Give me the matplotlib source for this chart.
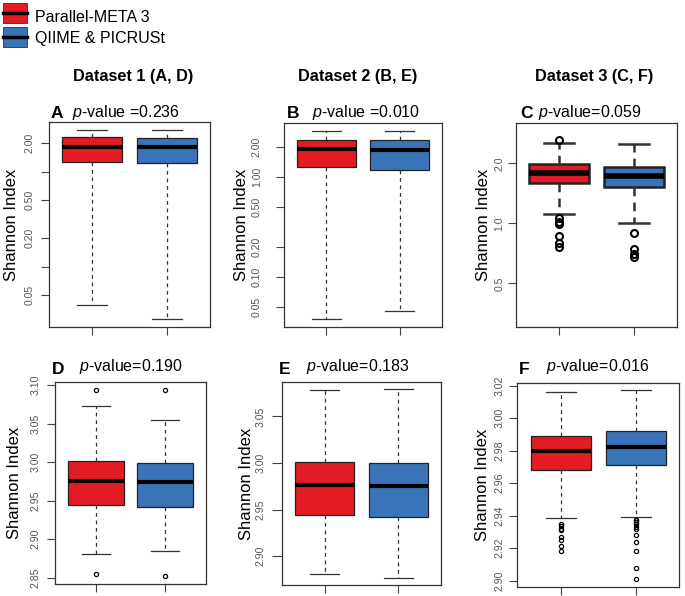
import matplotlib
matplotlib.use("Agg")
import matplotlib.pyplot as plt
from matplotlib.patches import Rectangle
from matplotlib.lines import Line2D

plt.rcParams['font.family'] = ['Liberation Sans', 'DejaVu Sans']
plt.rcParams['mathtext.fontset'] = 'custom'
plt.rcParams['mathtext.it'] = 'Liberation Sans:italic'
plt.rcParams['mathtext.rm'] = 'Liberation Sans'

# ---------------- data ----------------
methods = ["Parallel-META 3", "QIIME & PICRUSt"]
colors = ["#E31B23", "#3A74B8"]
datasets = ["Dataset 1 (A, D)", "Dataset 2 (B, E)", "Dataset 3 (C, F)"]
panel_letters = ["A", "B", "C", "D", "E", "F"]
p_values = ["0.236", "0.010", "0.059", "0.190", "0.183", "0.016"]

# per panel: [Parallel-META 3, QIIME & PICRUSt]
A_whislo = [0.0395, 0.0279]; A_q1 = [1.26, 1.23]; A_med = [1.84, 1.84]; A_q3 = [2.31, 2.27]; A_whishi = [2.78, 2.78]
A_fliers = [[], []]
B_whislo = [0.0378, 0.0458]; B_q1 = [1.26, 1.19]; B_med = [1.92, 1.89]; B_q3 = [2.38, 2.38]; B_whishi = [2.93, 2.90]
B_fliers = [[], []]
C_whislo = [1.11, 1.00]; C_q1 = [1.59, 1.53]; C_med = [1.78, 1.73]; C_q3 = [1.98, 1.92]; C_whishi = [2.54, 2.49]
C_fliers = [[2.62, 1.06, 1.02, 0.99, 0.86, 0.80, 0.76], [0.89, 0.74, 0.70, 0.68]]
D_whislo = [2.8805, 2.885]; D_q1 = [2.944, 2.942]; D_med = [2.976, 2.974]; D_q3 = [3.002, 2.999]; D_whishi = [3.073, 3.055]
D_fliers = [[3.093, 2.855], [3.094, 2.852]]
E_whislo = [2.881, 2.877]; E_q1 = [2.944, 2.942]; E_med = [2.976, 2.975]; E_q3 = [3.001, 3.000]; E_whishi = [3.078, 3.079]
E_fliers = [[], []]
F_whislo = [2.9385, 2.939]; F_q1 = [2.968, 2.971]; F_med = [2.980, 2.982]; F_q3 = [2.989, 2.992]; F_whishi = [3.016, 3.017]
F_fliers = [[2.9345, 2.9335, 2.932, 2.931, 2.927, 2.925, 2.921, 2.918],
            [2.9375, 2.937, 2.936, 2.935, 2.933, 2.932, 2.928, 2.924, 2.918, 2.908, 2.901]]

A_ticks = [0.05, 0.1, 0.2, 0.5, 1.0, 2.0]; A_labels = ["0.05", "", "0.20", "0.50", "", "2.00"]
B_ticks = [0.05, 0.1, 0.2, 0.5, 1.0, 2.0]; B_labels = ["0.05", "0.10", "0.20", "0.50", "1.00", "2.00"]
C_ticks = [0.5, 1.0, 2.0]; C_labels = ["0.5", "1.0", "2.0"]
D_ticks = [2.85, 2.90, 2.95, 3.00, 3.05, 3.10]; D_labels = ["2.85", "2.90", "2.95", "3.00", "3.05", "3.10"]
E_ticks = [2.90, 2.95, 3.00, 3.05]; E_labels = ["2.90", "2.95", "3.00", "3.05"]
F_ticks = [2.90, 2.92, 2.94, 2.96, 2.98, 3.00, 3.02]; F_labels = ["2.90", "2.92", "2.94", "2.96", "2.98", "3.00", "3.02"]

panels = [
    (A_whislo, A_q1, A_med, A_q3, A_whishi, A_fliers, A_ticks, A_labels),
    (B_whislo, B_q1, B_med, B_q3, B_whishi, B_fliers, B_ticks, B_labels),
    (C_whislo, C_q1, C_med, C_q3, C_whishi, C_fliers, C_ticks, C_labels),
    (D_whislo, D_q1, D_med, D_q3, D_whishi, D_fliers, D_ticks, D_labels),
    (E_whislo, E_q1, E_med, E_q3, E_whishi, E_fliers, E_ticks, E_labels),
    (F_whislo, F_q1, F_med, F_q3, F_whishi, F_fliers, F_ticks, F_labels),
]

# ---------------- layout (pixels) ----------------
W, H = 685, 596
fig = plt.figure(figsize=(W / 100, H / 100), dpi=100)

# left, right, top, bottom in pixels
boxes_px = [(49, 210, 122, 327), (284, 442, 123, 327), (516, 677, 123, 327),
            (55, 206, 382, 584), (282, 441, 382, 585), (517, 679, 383, 587)]
ylims = [(0.0232, 3.34), (0.0318, 3.49), (0.302, 3.19),
         (2.842, 3.104), (2.869, 3.087), (2.896, 3.0216)]
log_panel = [True, True, True, False, False, False]
heavy = [False, False, True, False, False, False]
tick_pad = [4.2, 10.0, 2.4, 4.2, 5.0, 2.7]
tick_len = [6, 6, 6, 6, 7, 6]
ylabel_cx = [11.5, 241.5, 483, 15, 246.5, 482.5]
letter_px = [(51, 113), (287, 113), (520, 113), (52, 370), (279, 370), (519, 370)]
ptext_px = [(72, 113), (312, 113), (538, 113), (79, 367), (306, 367), (546, 367)]
psep = [" =", " =", "=", "=", "=", "="]


def fx(x):
    return x / W


def fy(y):
    return 1 - y / H


for i, (wlo, q1, med, q3, whi, fl, ticks, labels) in enumerate(panels):
    l, r, t, b = boxes_px[i]
    ax = fig.add_axes([fx(l), fy(b), (r - l) / W, (b - t) / H])
    lw = 1.8 if heavy[i] else 0.9
    stats = []
    for k in range(2):
        stats.append(dict(whislo=wlo[k], q1=q1[k], med=med[k], q3=q3[k],
                          whishi=whi[k], fliers=fl[k]))
    msize = 5 if heavy[i] else 3.0
    bp = ax.bxp(stats, positions=[1, 2], widths=0.8, patch_artist=True,
                showfliers=True,
                boxprops=dict(linewidth=lw, edgecolor="#222222"),
                medianprops=dict(color="black", linewidth=4.0 if heavy[i] else 3.0),
                whiskerprops=dict(color="#333333", linewidth=lw,
                                  linestyle=(0, (3.5, 2.5)) if heavy[i] else (0, (3, 3))),
                capprops=dict(color="#333333", linewidth=lw),
                flierprops=dict(marker="o", markerfacecolor="none",
                                markeredgecolor="black", markersize=msize,
                                markeredgewidth=1.5 if heavy[i] else 0.9),
                capwidths=0.4)
    for patch, c in zip(bp["boxes"], colors):
        patch.set_facecolor(c)
    if log_panel[i]:
        ax.set_yscale("log")
    ax.set_xlim(0.42, 2.58)
    ax.set_ylim(*ylims[i])
    ax.set_yticks(ticks)
    ax.set_yticklabels(labels)
    ax.minorticks_off()
    ax.set_xticks([1, 2])
    ax.set_xticklabels([])
    ax.tick_params(axis="y", labelsize=7.6, labelcolor="#555555", length=tick_len[i],
                   width=0.8, color="#444444", labelrotation=90, pad=tick_pad[i])
    ax.tick_params(axis="x", length=6, width=0.8, color="#444444")
    for lab in ax.get_yticklabels():
        lab.set_verticalalignment("center")
    for s in ax.spines.values():
        s.set_linewidth(0.9)
        s.set_color("#333333")
    ax.set_ylabel("Shannon Index", fontsize=12, ha="center", va="center")
    ax.yaxis.set_label_coords((ylabel_cx[i] - l) / (r - l), 0.5)

    lx, ly = letter_px[i]
    fig.text(fx(lx), fy(ly), panel_letters[i], fontsize=12.5, fontweight="bold",
             ha="left", va="center")
    px, py = ptext_px[i]
    fig.text(fx(px), fy(py), r"$\it{p}$" + "-value" + psep[i] + p_values[i],
             fontsize=11.5, ha="left", va="center")

# dataset headers
header_x = [133, 358, 594]
for hx, name in zip(header_x, datasets):
    fig.text(fx(hx), fy(77), name, fontsize=11.7, fontweight="bold",
             ha="center", va="center")

# legend
leg_y = [(3, 23), (27, 47)]
leg_text_y = [18, 38]
for k in range(2):
    y0, y1 = leg_y[k]
    fig.add_artist(Rectangle((fx(3), fy(y1)), 24 / W, (y1 - y0) / H,
                             transform=fig.transFigure, facecolor=colors[k],
                             edgecolor="#333333", linewidth=0.6))
    ym = fy((y0 + y1) / 2)
    fig.add_artist(Line2D([fx(3), fx(27)], [ym, ym], transform=fig.transFigure,
                          color="black", linewidth=2.5))
    fig.text(fx(35), fy(leg_text_y[k]), methods[k], fontsize=11.5,
             ha="left", va="center")

fig.savefig("out.png", dpi=100)
